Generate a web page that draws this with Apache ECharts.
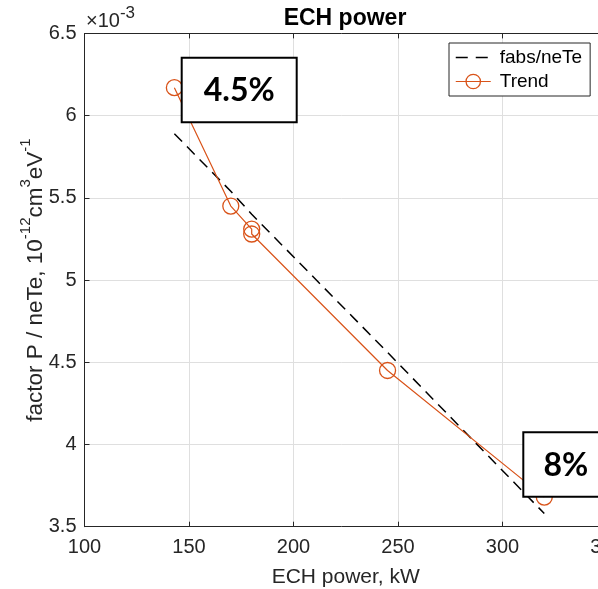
<!DOCTYPE html>
<html>
<head>
<meta charset="utf-8">
<script src="https://cdn.jsdelivr.net/npm/echarts@6/dist/echarts.min.js"></script>
<style>
  html, body { margin: 0; padding: 0; background: #fff; }
  #chart { width: 598px; height: 589px; }
</style>
</head>
<body>
<div id="chart"></div>
<script>
// ECH power scan: measured trend and the fabs/neTe reference line (values in units of 1e-3)
const trendPower = [143, 170, 180, 180, 245, 320];
const trendFactor = [6.17, 5.45, 5.31, 5.28, 4.45, 3.68];
const fabsPower = [143, 170, 180, 245, 320];
const fabsFactor = [5.89, 5.54, 5.40, 4.56, 3.58];

// axis ticks
const xTicks = [100, 150, 200, 250, 300, 350];
const yTicks = [3.5, 4, 4.5, 5, 5.5, 6, 6.5];

// boxed annotations
const annotationTexts = ['4.5%', '8%'];

const FONT = '"Liberation Sans", Arial, Helvetica, sans-serif';
const ANNOT_FONT = 'Lato, "Open Sans", sans-serif';
const ORANGE = '#D95319';
const AXIS_COLOR = '#262626';
const GRID_COLOR = '#dfdfdf';

const chart = echarts.init(document.getElementById('chart'), null, { renderer: 'canvas' });

const xStep = xTicks[1] - xTicks[0];
const yStep = yTicks[1] - yTicks[0];

const commonAxisLine = { show: true, onZero: false, lineStyle: { color: AXIS_COLOR, width: 1 } };
const commonTick = { show: true, inside: true, length: 5, lineStyle: { color: AXIS_COLOR, width: 1 } };

function boxedLabel(text, x, y, w, h) {
  return {
    type: 'group',
    z: 100,
    children: [
      {
        type: 'rect',
        shape: { x: x, y: y, width: w, height: h },
        style: { fill: '#fff', stroke: '#000', lineWidth: 2 },
        z: 100
      },
      {
        type: 'text',
        x: x + w / 2,
        y: y + h / 2 + 1,
        style: {
          text: text,
          fontFamily: ANNOT_FONT,
          fontSize: 32,
          fontWeight: 'bold',
          fill: '#000',
          align: 'center',
          verticalAlign: 'middle'
        },
        z: 101
      }
    ]
  };
}

const option = {
  animation: false,
  backgroundColor: '#fff',
  title: {
    text: 'ECH power',
    left: 345,
    top: 7,
    textAlign: 'center',
    padding: 0,
    textStyle: { fontFamily: FONT, fontSize: 23, fontWeight: 'bold', color: '#000' }
  },
  grid: {
    left: 84.5,
    top: 33.4,
    width: 522.5,
    height: 493.3,
    outerBoundsMode: 'none',
    containLabel: false
  },
  legend: {
    orient: 'vertical',
    left: 449,
    top: 43,
    padding: [5, 8, 5, 6],
    itemGap: 5,
    itemWidth: 35,
    itemHeight: 18,
    borderColor: AXIS_COLOR,
    borderWidth: 1,
    borderRadius: 0,
    backgroundColor: '#fff',
    selectedMode: false,
    textStyle: { fontFamily: FONT, fontSize: 19, color: '#000', padding: [0, 0, 0, 4] },
    data: [
      {
        name: 'fabs/neTe',
        itemStyle: { opacity: 0 },
        lineStyle: { color: '#000', width: 1.5, type: [12, 8] }
      },
      {
        name: 'Trend',
        itemStyle: { color: 'rgba(0,0,0,0)', borderColor: ORANGE, borderWidth: 1.3 },
        lineStyle: { color: ORANGE, width: 1.2, type: 'solid' }
      }
    ]
  },
  xAxis: [
    {
      type: 'value',
      position: 'bottom',
      min: xTicks[0],
      max: xTicks[xTicks.length - 1],
      interval: xStep,
      name: 'ECH power, kW',
      nameLocation: 'middle',
      nameGap: 40,
      nameMoveOverlap: false,
      nameTextStyle: { fontFamily: FONT, fontSize: 21, color: AXIS_COLOR },
      axisLine: commonAxisLine,
      axisTick: commonTick,
      axisLabel: { margin: 11, fontFamily: FONT, fontSize: 20, color: AXIS_COLOR },
      splitLine: { show: true, lineStyle: { color: GRID_COLOR, width: 1 } }
    },
    {
      type: 'value',
      position: 'top',
      min: xTicks[0],
      max: xTicks[xTicks.length - 1],
      interval: xStep,
      axisLine: commonAxisLine,
      axisTick: commonTick,
      axisLabel: { show: false },
      splitLine: { show: false }
    }
  ],
  yAxis: {
    type: 'value',
    min: yTicks[0],
    max: yTicks[yTicks.length - 1],
    interval: yStep,
    name: '{a|factor P / neTe, 10}{s|-12}{a|cm}{s|3}{a|eV}{s|-1}',
    nameLocation: 'middle',
    nameRotate: 90,
    nameGap: 31,
    nameMoveOverlap: false,
    nameTextStyle: {
      fontFamily: FONT,
      color: AXIS_COLOR,
      rich: {
        a: { fontFamily: FONT, fontSize: 22.5, lineHeight: 35, color: AXIS_COLOR },
        s: { fontFamily: FONT, fontSize: 15, lineHeight: 15, verticalAlign: 'top', color: AXIS_COLOR }
      }
    },
    axisLine: commonAxisLine,
    axisTick: commonTick,
    axisLabel: { margin: 8, fontFamily: FONT, fontSize: 20, color: AXIS_COLOR },
    splitLine: { show: true, lineStyle: { color: GRID_COLOR, width: 1 } }
  },
  graphic: [
    {
      type: 'text',
      x: 86,
      y: 5,
      z: 50,
      style: {
        text: '{a|\u00d710}{s|-3}',
        verticalAlign: 'top',
        align: 'left',
        fill: AXIS_COLOR,
        rich: {
          a: { fontFamily: FONT, fontSize: 20, lineHeight: 33, fill: AXIS_COLOR },
          s: { fontFamily: FONT, fontSize: 17, verticalAlign: 'top', fill: AXIS_COLOR }
        }
      }
    },
    boxedLabel(annotationTexts[0], 181.7, 57.7, 115, 64.6),
    boxedLabel(annotationTexts[1], 523.3, 432.3, 85, 64.4)
  ],
  series: [
    {
      name: 'fabs/neTe',
      type: 'line',
      xAxisIndex: 0,
      data: fabsPower.map((p, i) => [p, fabsFactor[i]]),
      symbol: 'none',
      silent: true,
      lineStyle: { color: '#000', width: 1.5, type: [11, 7] },
      z: 3
    },
    {
      name: 'Trend',
      type: 'line',
      xAxisIndex: 0,
      data: trendPower.map((p, i) => [p, trendFactor[i]]),
      symbol: 'circle',
      symbolSize: 16,
      silent: true,
      itemStyle: { color: 'rgba(0,0,0,0)', borderColor: ORANGE, borderWidth: 1.3 },
      lineStyle: { color: ORANGE, width: 1.2 },
      z: 4
    }
  ]
};

chart.setOption(option);
</script>
</body>
</html>
